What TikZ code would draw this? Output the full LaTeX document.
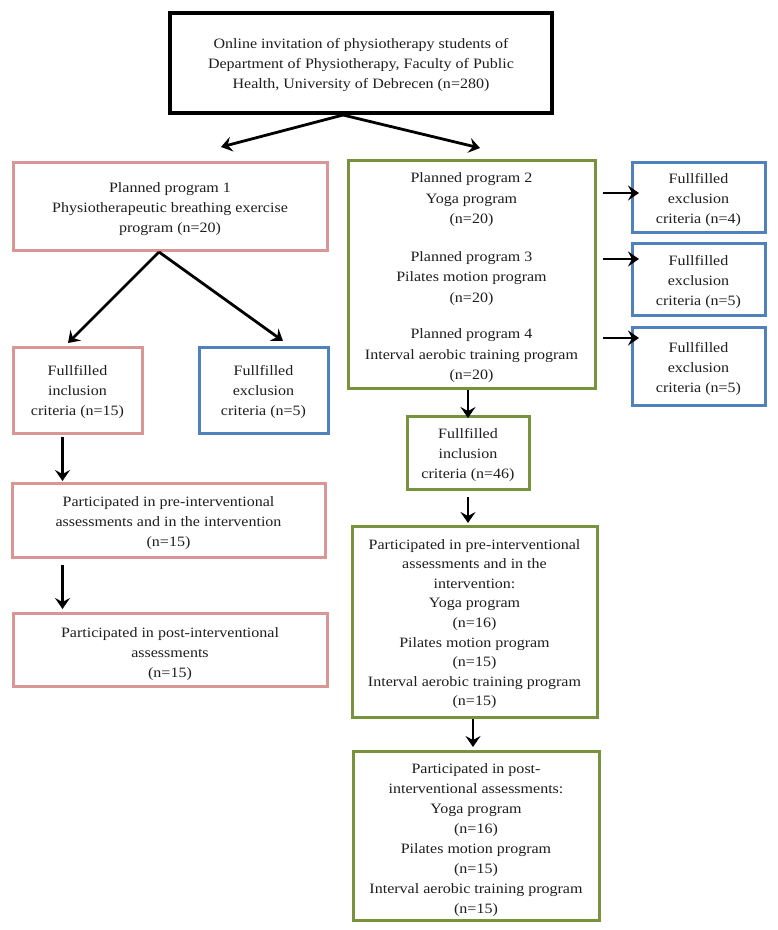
\documentclass[tikz,border=0pt]{standalone}
\usepackage{fontspec}
\setmainfont{Liberation Serif}[FakeStretch=1.12]
\usetikzlibrary{arrows.meta}
\definecolor{pinkb}{HTML}{D99694}
\definecolor{blueb}{HTML}{4F81BD}
\definecolor{greenb}{HTML}{77933C}
\definecolor{txt}{HTML}{1E1E1E}
\tikzset{
  x=1pt, y=-1pt,
  frame/.style={draw=#1, line width=3pt, inner sep=0pt},
  topframe/.style={draw=black, line width=4pt, inner sep=0pt},
  lbl/.style={align=center, text=txt, inner sep=0pt,
    font=\fontsize{14.3}{20}\selectfont},
  arr/.style={line width=2.8pt, -{Stealth[length=11pt,width=15pt,inset=4pt]}},
}
\begin{document}
\begin{tikzpicture}
\useasboundingbox[fill=white] (0,0) rectangle (778,930);

% frames
\node[topframe, minimum width=382pt, minimum height=100pt] (top) at (361,63) {};
\node[frame=pinkb, minimum width=314pt, minimum height=88pt] (p1) at (170,206) {};
\node[frame=pinkb, minimum width=129pt, minimum height=86pt] (inc1) at (77.5,390) {};
\node[frame=blueb, minimum width=129pt, minimum height=86pt] (exc1) at (263.5,390) {};
\node[frame=pinkb, minimum width=313pt, minimum height=74pt] (pre1) at (168.5,520) {};
\node[frame=pinkb, minimum width=314pt, minimum height=73pt] (post1) at (170,649.5) {};
\node[frame=greenb, minimum width=247pt, minimum height=228pt] (p234) at (471.5,274) {};
\node[frame=blueb, minimum width=133pt, minimum height=70pt] (excA) at (698.5,197) {};
\node[frame=blueb, minimum width=133pt, minimum height=72pt] (excB) at (698.5,279) {};
\node[frame=blueb, minimum width=133pt, minimum height=78pt] (excC) at (698.5,366) {};
\node[frame=greenb, minimum width=122pt, minimum height=73pt] (inc2) at (468,452.5) {};
\node[frame=greenb, minimum width=245pt, minimum height=191pt] (pre2) at (474.5,621.5) {};
\node[frame=greenb, minimum width=246pt, minimum height=169pt] (post2) at (476,835.5) {};

% texts
\node[lbl] (topT) at ([yshift=-2pt]top.center)
  {Online invitation of physiotherapy students of\\Department of Physiotherapy, Faculty of Public\\Health, University of Debrecen (n=280)};
\node[lbl] (p1T) at ([yshift=-3pt]p1.center)
  {Planned program 1\\Physiotherapeutic breathing exercise\\program (n=20)};
\node[lbl] (inc1T) at ([yshift=-2pt]inc1.center)
  {Fullfilled\\inclusion\\criteria (n=15)};
\node[lbl] (exc1T) at ([yshift=-2pt]exc1.center)
  {Fullfilled\\exclusion\\criteria (n=5)};
\node[lbl] (pre1T) at ([yshift=-3.5pt]pre1.center)
  {Participated in pre-interventional\\assessments and in the intervention\\(n=15)};
\node[lbl] (post1T) at ([yshift=-4.5pt]post1.center)
  {Participated in post-interventional\\assessments\\(n=15)};
\node[lbl, font=\fontsize{14.3}{20.5}\selectfont] (p234T) at ([yshift=-4pt]p234.center)
  {Planned program 2\\Yoga program\\(n=20)\\[17pt]
   Planned program 3\\Pilates motion program\\(n=20)\\[16pt]
   Planned program 4\\Interval aerobic training program\\(n=20)};
\node[lbl] (excAT) at ([yshift=-3pt]excA.center)
  {Fullfilled\\exclusion\\criteria (n=4)};
\node[lbl] (excBT) at ([yshift=-3pt]excB.center)
  {Fullfilled\\exclusion\\criteria (n=5)};
\node[lbl] (excCT) at ([yshift=-2.5pt]excC.center)
  {Fullfilled\\exclusion\\criteria (n=5)};
\node[lbl] (inc2T) at ([yshift=-2.5pt]inc2.center)
  {Fullfilled\\inclusion\\criteria (n=46)};
\node[lbl, font=\fontsize{14.3}{19.6}\selectfont] (pre2T) at ([yshift=-2.5pt]pre2.center)
  {Participated in pre-interventional\\assessments and in the\\intervention:\\Yoga program\\(n=16)\\Pilates motion program\\(n=15)\\Interval aerobic training program\\(n=15)};
\node[lbl] (post2T) at ([yshift=-5pt]post2.center)
  {Participated in post-\\interventional assessments:\\Yoga program\\(n=16)\\Pilates motion program\\(n=15)\\Interval aerobic training program\\(n=15)};

% connector coordinates
\coordinate (topj) at (343,115);
\coordinate (tl) at (221,147);
\coordinate (tr) at (480,148);
\coordinate (p1j) at (159,252);
\coordinate (p1l) at (68,343);
\coordinate (p1r) at (283,341);
\coordinate (aAs) at (603,193);
\coordinate (aAe) at (639,193);
\coordinate (aBs) at (603,259);
\coordinate (aBe) at (639,259);
\coordinate (aCs) at (603,338);
\coordinate (aCe) at (639,338);
\coordinate (l1s) at (62.5,437);
\coordinate (l1e) at (62.5,481);
\coordinate (l2s) at (62.5,565);
\coordinate (l2e) at (62.5,609);
\coordinate (r1s) at (468,390);
\coordinate (r1e) at (468,418);
\coordinate (r2s) at (468,497);
\coordinate (r2e) at (468,523);
\coordinate (r3s) at (473,719);
\coordinate (r3e) at (473,747);

% connectors
\draw[arr] (topj) -- (tl);
\draw[arr] (topj) -- (tr);
\draw[arr] (p1j) -- (p1l);
\draw[arr] (p1j) -- (p1r);
\draw[arr] (aAs) -- (aAe);
\draw[arr] (aBs) -- (aBe);
\draw[arr] (aCs) -- (aCe);
\draw[arr] (l1s) -- (l1e);
\draw[arr] (l2s) -- (l2e);
\draw[arr] (r1s) -- (r1e);
\draw[arr] (r2s) -- (r2e);
\draw[arr] (r3s) -- (r3e);
\end{tikzpicture}
\end{document}
